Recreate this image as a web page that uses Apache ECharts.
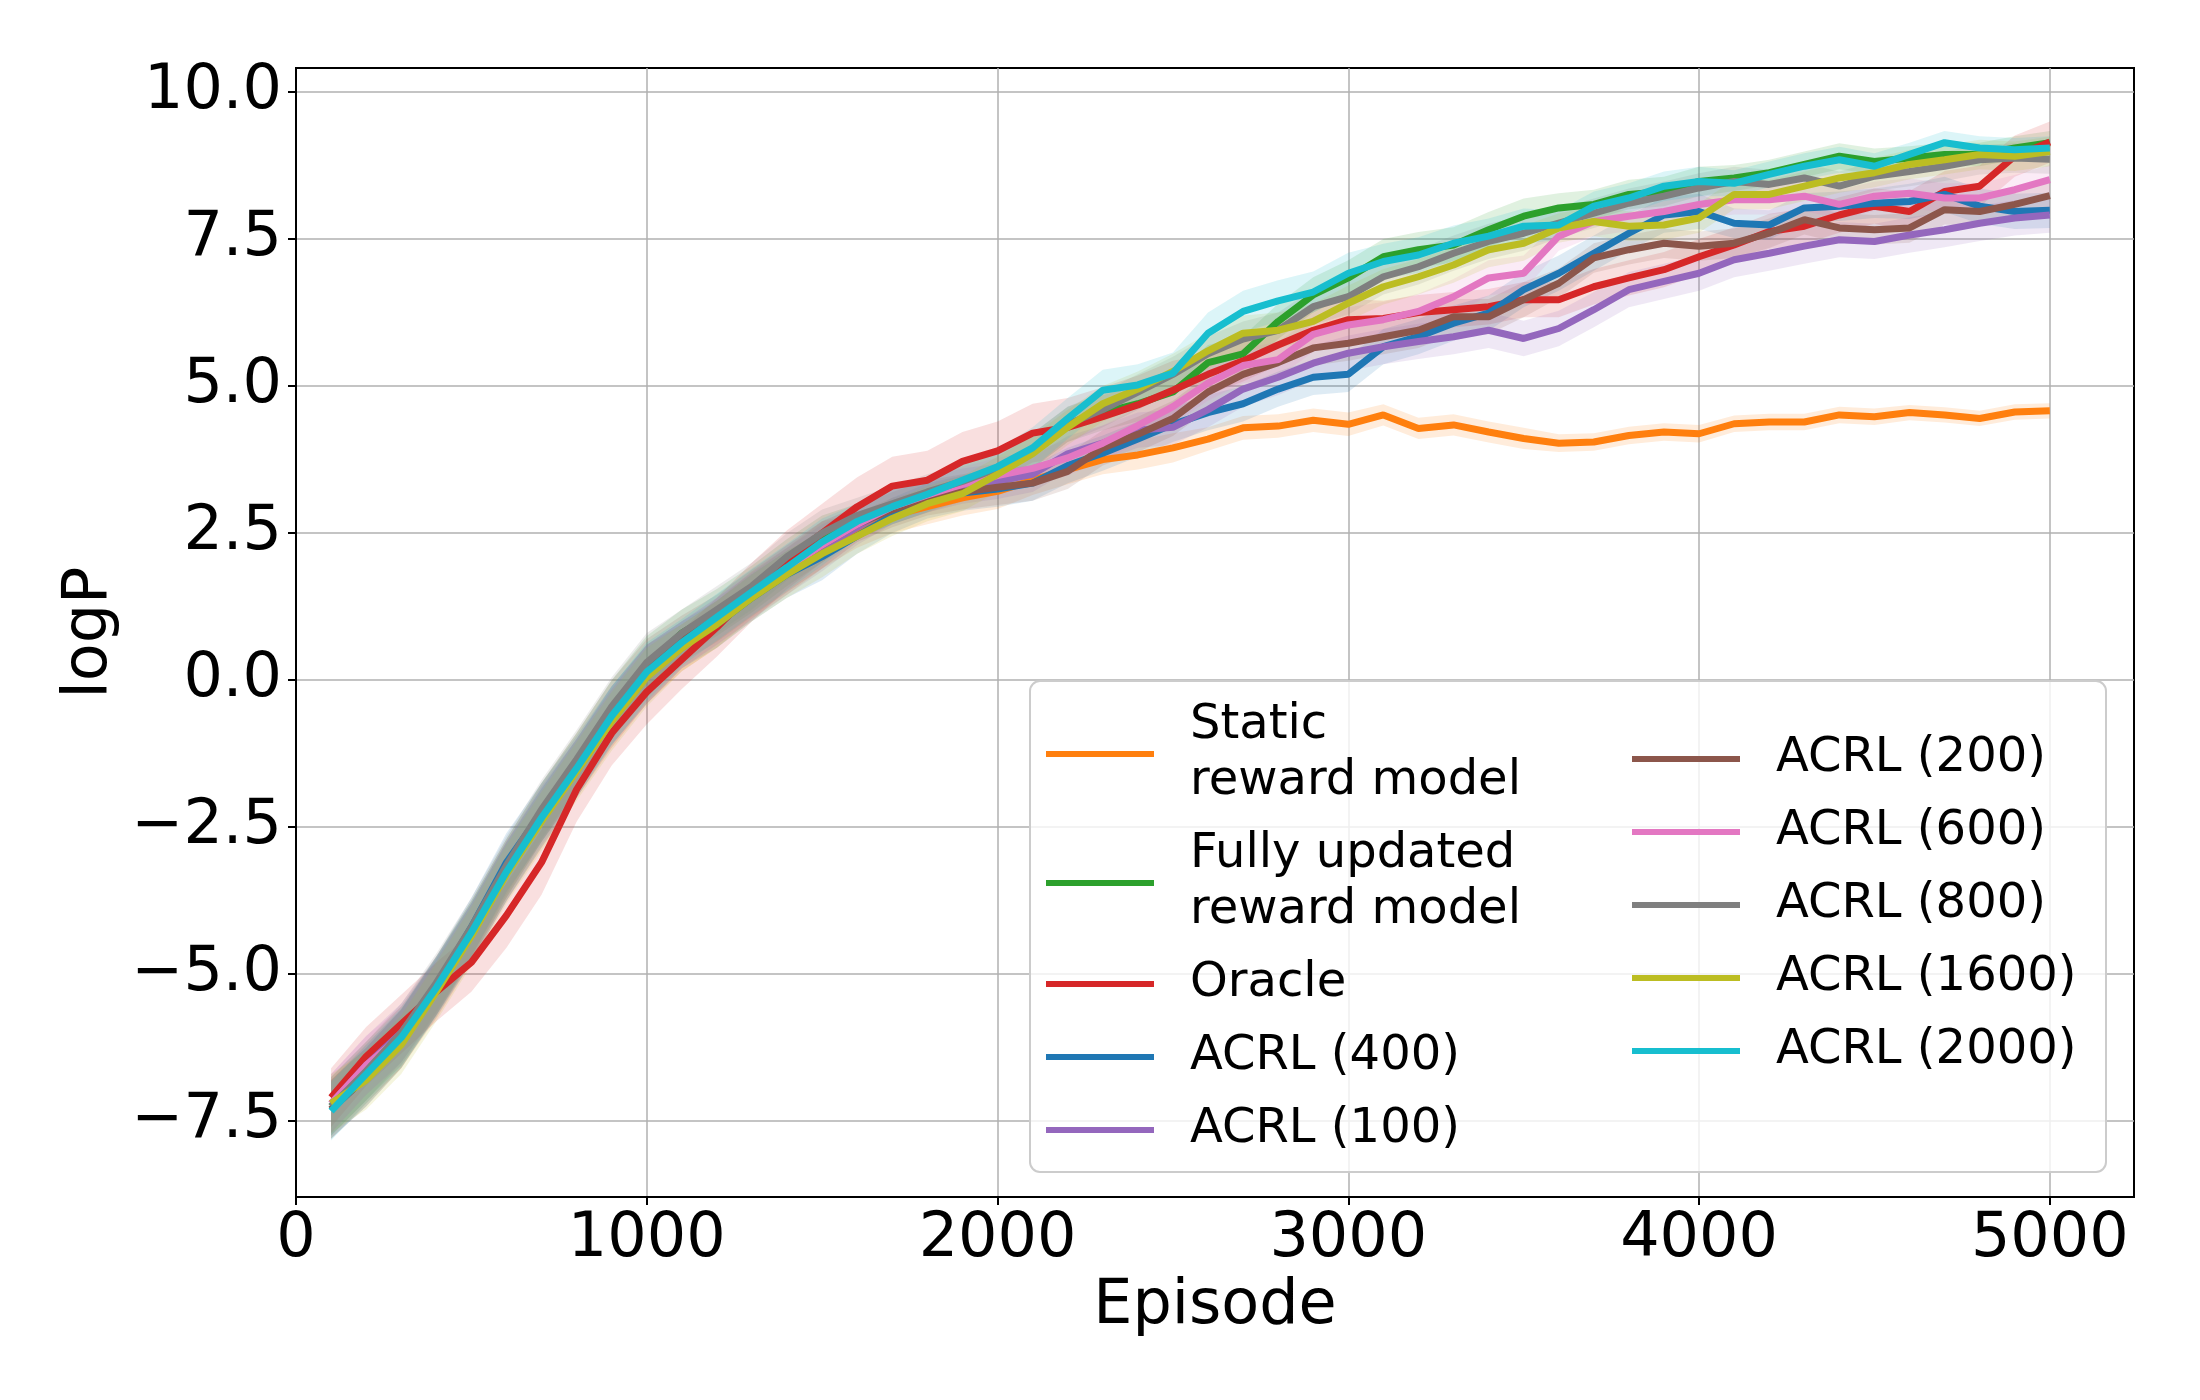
<!DOCTYPE html>
<html>
<head>
<meta charset="utf-8">
<script src="https://cdn.jsdelivr.net/npm/echarts@6/dist/echarts.min.js"></script>
<style>
  html, body { margin: 0; padding: 0; background: #fff; }
  #chart { width: 2200px; height: 1400px; }
</style>
</head>
<body>
<div id="chart"></div>
<script>
// episodes 100..5000, step 100
const episodes = [100, 200, 300, 400, 500, 600, 700, 800, 900, 1000,
  1100, 1200, 1300, 1400, 1500, 1600, 1700, 1800, 1900, 2000,
  2100, 2200, 2300, 2400, 2500, 2600, 2700, 2800, 2900, 3000,
  3100, 3200, 3300, 3400, 3500, 3600, 3700, 3800, 3900, 4000,
  4100, 4200, 4300, 4400, 4500, 4600, 4700, 4800, 4900, 5000]

const xTicks = [0, 1000, 2000, 3000, 4000, 5000]
const yTicks = [-7.5, -5, -2.5, 0, 2.5, 5, 7.5, 10]

const staticRM = [-7.3, -6.7, -6.1, -5.25, -4.3, -3.25, -2.35, -1.5, -0.65, 0.1, 0.55,
  0.95, 1.45, 1.85, 2.3, 2.55, 2.8, 2.95, 3.1, 3.21, 3.4, 3.58, 3.75, 3.83, 3.95, 4.1, 4.29, 4.32, 4.42, 4.35,
  4.51, 4.28, 4.34, 4.22, 4.11, 4.03, 4.05, 4.16, 4.22, 4.19, 4.36, 4.39, 4.39, 4.51, 4.48, 4.55, 4.51, 4.45, 4.56, 4.58]
const fullyRM = [-7.25, -6.65, -6.05, -5.2, -4.25, -3.2, -2.25, -1.4, -0.5, 0.25, 0.8,
  1.15, 1.55, 2.0, 2.4, 2.7, 2.95, 3.15, 3.35, 3.6, 3.9, 4.35, 4.55, 4.7, 4.9, 5.4, 5.55, 6.1, 6.55, 6.84,
  7.2, 7.32, 7.4, 7.66, 7.89, 8.03, 8.09, 8.26, 8.31, 8.48, 8.54, 8.63, 8.77, 8.91, 8.82, 8.88, 8.94, 8.94, 9.05, 9.14]
const oracle = [-7.1, -6.4, -5.85, -5.3, -4.8, -4.0, -3.1, -1.86, -0.9, -0.2, 0.35,
  0.9, 1.5, 2.05, 2.5, 2.95, 3.3, 3.4, 3.72, 3.9, 4.2, 4.3, 4.48, 4.68, 4.93, 5.2, 5.43, 5.7, 5.95, 6.13,
  6.15, 6.25, 6.3, 6.35, 6.47, 6.47, 6.69, 6.84, 6.98, 7.2, 7.4, 7.63, 7.72, 7.91, 8.06, 7.97, 8.31, 8.4, 8.91, 9.15]
const acrl400 = [-7.3, -6.75, -6.1, -5.2, -4.2, -3.1, -2.25, -1.45, -0.6, 0.1, 0.6,
  0.95, 1.4, 1.8, 2.1, 2.45, 2.8, 3.05, 3.18, 3.25, 3.35, 3.65, 3.86, 4.1, 4.35, 4.55, 4.7, 4.95, 5.15, 5.2,
  5.67, 5.84, 6.07, 6.24, 6.64, 6.92, 7.26, 7.6, 7.91, 7.97, 7.77, 7.74, 8.03, 8.06, 8.11, 8.14, 8.26, 8.06, 7.97, 7.99]
const acrl100 = [-7.2, -6.55, -6.0, -5.2, -4.3, -3.25, -2.3, -1.5, -0.6, 0.1, 0.6,
  1.0, 1.42, 1.85, 2.25, 2.6, 2.95, 3.15, 3.3, 3.38, 3.5, 3.85, 4.03, 4.25, 4.3, 4.6, 4.95, 5.15, 5.39, 5.56,
  5.67, 5.76, 5.84, 5.95, 5.81, 5.98, 6.3, 6.64, 6.78, 6.92, 7.15, 7.26, 7.38, 7.49, 7.46, 7.57, 7.66, 7.77, 7.86, 7.91]
const acrl200 = [-7.3, -6.75, -6.1, -5.2, -4.25, -3.2, -2.25, -1.4, -0.5, 0.2, 0.7,
  1.05, 1.48, 1.9, 2.3, 2.65, 2.9, 3.1, 3.2, 3.28, 3.35, 3.55, 3.95, 4.18, 4.45, 4.9, 5.2, 5.4, 5.65, 5.73,
  5.84, 5.95, 6.18, 6.18, 6.47, 6.75, 7.18, 7.32, 7.43, 7.38, 7.43, 7.6, 7.83, 7.69, 7.66, 7.69, 8.0, 7.97, 8.09, 8.24]
const acrl600 = [-7.2, -6.55, -6.05, -5.25, -4.3, -3.25, -2.35, -1.5, -0.65, 0.1, 0.6,
  1.0, 1.45, 1.9, 2.3, 2.65, 2.95, 3.15, 3.33, 3.48, 3.6, 3.78, 4.03, 4.33, 4.65, 5.05, 5.35, 5.45, 5.88, 6.04,
  6.13, 6.27, 6.52, 6.84, 6.92, 7.55, 7.8, 7.89, 7.97, 8.09, 8.17, 8.17, 8.23, 8.09, 8.23, 8.28, 8.2, 8.2, 8.34, 8.51]
const acrl800 = [-7.25, -6.65, -6.0, -5.15, -4.2, -3.15, -2.2, -1.35, -0.45, 0.3, 0.8,
  1.2, 1.6, 2.1, 2.5, 2.8, 3.0, 3.2, 3.38, 3.6, 3.9, 4.35, 4.6, 4.9, 5.2, 5.55, 5.8, 5.95, 6.35, 6.52,
  6.86, 7.03, 7.26, 7.46, 7.6, 7.77, 7.94, 8.11, 8.23, 8.37, 8.48, 8.43, 8.54, 8.4, 8.57, 8.65, 8.74, 8.85, 8.88, 8.86]
const acrl1600 = [-7.2, -6.8, -6.2, -5.3, -4.35, -3.3, -2.4, -1.55, -0.7, 0.05, 0.55,
  0.95, 1.4, 1.8, 2.15, 2.45, 2.75, 3.0, 3.17, 3.5, 3.85, 4.3, 4.7, 4.95, 5.25, 5.6, 5.9, 5.95, 6.1, 6.41,
  6.69, 6.86, 7.06, 7.32, 7.43, 7.69, 7.8, 7.72, 7.74, 7.86, 8.26, 8.26, 8.4, 8.54, 8.63, 8.77, 8.85, 8.94, 8.91, 8.99]
const acrl2000 = [-7.33, -6.7, -6.08, -5.23, -4.29, -3.26, -2.34, -1.5, -0.61, 0.14, 0.64,
  1.07, 1.5, 1.92, 2.35, 2.7, 2.95, 3.16, 3.4, 3.63, 3.95, 4.45, 4.93, 5.02, 5.22, 5.9, 6.27, 6.45, 6.6, 6.92,
  7.12, 7.23, 7.43, 7.55, 7.72, 7.74, 8.06, 8.2, 8.4, 8.48, 8.45, 8.6, 8.74, 8.85, 8.74, 8.94, 9.14, 9.05, 9.02, 9.05]

// band half width (std) per 500-episode block
const stdStatic = [0.5, 0.5, 0.4, 0.3, 0.25, 0.2, 0.18, 0.15, 0.14, 0.13]
const stdFully = [0.5, 0.5, 0.4, 0.3, 0.3, 0.3, 0.3, 0.25, 0.22, 0.2]
const stdOracle = [0.5, 0.55, 0.5, 0.5, 0.5, 0.35, 0.3, 0.3, 0.3, 0.35]
const std400 = [0.5, 0.5, 0.4, 0.3, 0.3, 0.3, 0.3, 0.3, 0.25, 0.3]
const std100 = [0.5, 0.5, 0.4, 0.3, 0.3, 0.3, 0.3, 0.3, 0.3, 0.3]
const std200 = [0.5, 0.5, 0.4, 0.3, 0.3, 0.3, 0.3, 0.25, 0.25, 0.25]
const std600 = [0.5, 0.5, 0.4, 0.3, 0.3, 0.3, 0.3, 0.25, 0.25, 0.25]
const std800 = [0.5, 0.5, 0.4, 0.3, 0.3, 0.3, 0.3, 0.25, 0.25, 0.25]
const std1600 = [0.5, 0.5, 0.4, 0.3, 0.3, 0.3, 0.3, 0.25, 0.25, 0.25]
const std2000 = [0.5, 0.5, 0.4, 0.3, 0.35, 0.35, 0.3, 0.25, 0.22, 0.2]

const runs = [
  { name: 'Static\nreward model', color: '#ff7f0e', mean: staticRM, std: stdStatic },
  { name: 'Fully updated\nreward model', color: '#2ca02c', mean: fullyRM, std: stdFully },
  { name: 'Oracle', color: '#d62728', mean: oracle, std: stdOracle },
  { name: 'ACRL (400)', color: '#1f77b4', mean: acrl400, std: std400 },
  { name: 'ACRL (100)', color: '#9467bd', mean: acrl100, std: std100 },
  { name: 'ACRL (200)', color: '#8c564b', mean: acrl200, std: std200 },
  { name: 'ACRL (600)', color: '#e377c2', mean: acrl600, std: std600 },
  { name: 'ACRL (800)', color: '#7f7f7f', mean: acrl800, std: std800 },
  { name: 'ACRL (1600)', color: '#bcbd22', mean: acrl1600, std: std1600 },
  { name: 'ACRL (2000)', color: '#17becf', mean: acrl2000, std: std2000 }
]

const FONT = 'DejaVu Sans'

// shaded mean +/- std band, drawn as one polygon through the axis scales
function bandSeries(run, k) {
  const rows = run.mean.map((v, i) => {
    const s = run.std[Math.floor(i / 5)]
    return [episodes[i], v - s, v + s]
  })
  return {
    type: 'custom', name: 'band' + k, silent: true, z: 1,
    data: rows,
    encode: { x: 0, y: [1, 2] },
    renderItem(params, api) {
      if (params.dataIndex !== 0) return null
      const upper = rows.map(r => api.coord([r[0], r[2]]))
      const lower = rows.map(r => api.coord([r[0], r[1]])).reverse()
      return {
        type: 'polygon',
        shape: { points: upper.concat(lower) },
        style: { fill: run.color, opacity: 0.15 }
      }
    }
  }
}

const series = runs.map(bandSeries).concat(runs.map(run => ({
  type: 'line', name: run.name, data: run.mean.map((v, i) => [episodes[i], v]),
  showSymbol: false, color: run.color,
  lineStyle: { width: 7, color: run.color }, z: 2
})))

const legendBase = {
  orient: 'vertical',
  padding: 0,
  itemGap: 17,
  itemWidth: 108,
  itemHeight: 6,
  icon: 'rect',
  textStyle: { fontFamily: FONT, fontSize: 48, lineHeight: 56, color: '#000', padding: [0, 0, 0, 31] },
  selectedMode: false
}

const chart = echarts.init(document.getElementById('chart'))
chart.setOption({
  animation: false,
  backgroundColor: '#fff',
  grid: { left: 296, right: 66, top: 68, bottom: 203, show: true, borderColor: '#000', borderWidth: 2 },
  xAxis: {
    type: 'value', min: 0, max: 5240,
    name: 'Episode', nameLocation: 'middle', nameGap: 60,
    nameTextStyle: { fontFamily: FONT, fontSize: 62, color: '#000' },
    axisLine: { onZero: false, lineStyle: { color: '#000', width: 2 } },
    axisTick: { customValues: xTicks, length: 8, lineStyle: { color: '#000', width: 2 } },
    axisLabel: {
      customValues: xTicks, margin: 12, fontFamily: FONT, fontSize: 62, color: '#000',
      formatter: v => String(v)
    },
    splitLine: { show: true, lineStyle: { color: '#b0b0b0', width: 1.5 } }
  },
  yAxis: {
    type: 'value', min: -8.79, max: 10.41,
    name: 'logP', nameLocation: 'middle', nameGap: 145,
    nameTextStyle: { fontFamily: FONT, fontSize: 62, color: '#000' },
    axisLine: { show: true, onZero: false, lineStyle: { color: '#000', width: 2 } },
    axisTick: { show: true, customValues: yTicks, length: 8, lineStyle: { color: '#000', width: 2 } },
    axisLabel: {
      customValues: yTicks, margin: 14, fontFamily: FONT, fontSize: 62, color: '#000',
      formatter: v => v.toFixed(1).replace('-', '\u2212')
    },
    splitLine: { show: true, lineStyle: { color: '#b0b0b0', width: 1.5 } }
  },
  graphic: [{
    type: 'rect', z: 3, silent: true,
    shape: { x: 1030, y: 681, width: 1076, height: 491, r: 10 },
    style: { fill: 'rgba(255,255,255,0.8)', stroke: '#cccccc', lineWidth: 2 }
  }],
  legend: [
    Object.assign({}, legendBase, { left: 1046, top: 698, data: runs.slice(0, 5).map(r => r.name) }),
    Object.assign({}, legendBase, { left: 1632, top: 731, data: runs.slice(5).map(r => r.name) })
  ],
  series: series
})
</script>
</body>
</html>
